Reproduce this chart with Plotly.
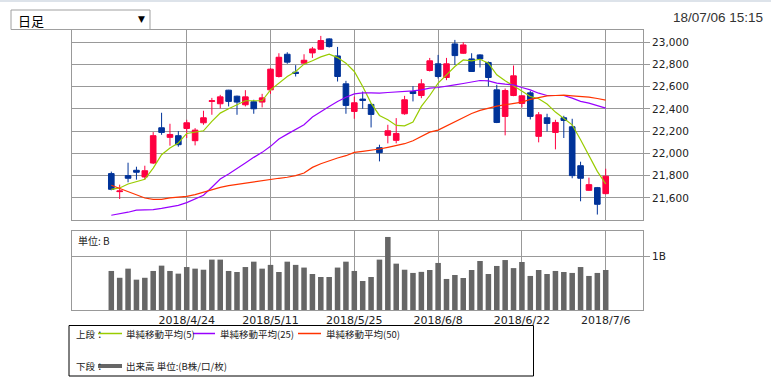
import plotly.graph_objects as go

W, H = 771, 383

dates = (
    ["2018-04-%02d" % d for d in [11, 12, 13, 16, 17, 18, 19, 20, 23, 24, 25, 26, 27]]
    + ["2018-05-%02d" % d for d in [1, 2, 7, 8, 9, 10, 11, 14, 15, 16, 17, 18, 21, 22, 23, 24, 25, 28, 29, 30, 31]]
    + ["2018-06-%02d" % d for d in [1, 4, 5, 6, 7, 8, 11, 12, 13, 14, 15, 18, 19, 20, 21, 22, 25, 26, 27, 28, 29]]
    + ["2018-07-%02d" % d for d in [2, 3, 4, 5, 6]]
)

open_ = [21819, 21657, 21801, 21849, 21789, 21914, 22231, 22145, 22160, 22225,
         22115, 22276, 22468, 22447, 22569, 22515, 22438, 22465, 22462, 22572,
         22692, 22892, 22731, 22812, 22904, 22937, 23030, 22877, 22626, 22378,
         22489, 22441, 22052, 22163, 22118, 22357, 22557, 22521, 22746, 22806,
         22683, 22985, 22901, 22850, 22886, 22818, 22572, 22333, 22521, 22450,
         22545, 22154, 22321, 22189, 22321, 22240, 21890, 21669, 21693, 21639]
high = [21837, 21720, 21917, 21881, 21890, 22192, 22366, 22267, 22201, 22303,
        22228, 22384, 22500, 22527, 22572, 22520, 22569, 22483, 22536, 22767,
        22901, 22910, 22794, 22892, 22958, 23057, 23036, 22958, 22653, 22512,
        22557, 22450, 22079, 22258, 22318, 22518, 22605, 22668, 22859, 22886,
        22859, 23021, 23000, 22901, 22892, 22827, 22617, 22584, 22791, 22524,
        22563, 22372, 22357, 22303, 22339, 22312, 21926, 21783, 21699, 21863]
low = [21669, 21591, 21741, 21765, 21765, 21905, 22168, 22070, 22061, 22139,
       22073, 22258, 22348, 22405, 22423, 22348, 22423, 22357, 22414, 22536,
       22683, 22806, 22692, 22797, 22859, 22931, 22952, 22647, 22357, 22312,
       22402, 22234, 21929, 22091, 22091, 22348, 22468, 22497, 22737, 22674,
       22659, 22797, 22895, 22734, 22773, 22602, 22273, 22163, 22515, 22414,
       22306, 22100, 22198, 22037, 22139, 21777, 21570, 21663, 21451, 21633]
close = [21678, 21663, 21777, 21831, 21845, 22160, 22189, 22171, 22079, 22276,
         22210, 22321, 22474, 22509, 22468, 22462, 22509, 22402, 22500, 22758,
         22865, 22821, 22719, 22838, 22940, 23015, 22961, 22692, 22432, 22456,
         22477, 22351, 22007, 22204, 22180, 22483, 22539, 22626, 22833, 22692,
         22806, 22880, 22976, 22737, 22850, 22683, 22279, 22566, 22698, 22518,
         22333, 22348, 22270, 22279, 22297, 21801, 21777, 21720, 21543, 21795]

ma5 = [21678, 21690, 21726, 21750, 21768, 21869, 21989, 22049, 22094, 22180,
       22189, 22204, 22288, 22363, 22402, 22438, 22474, 22474, 22474, 22572,
       22632, 22692, 22737, 22803, 22833, 22868, 22892, 22862, 22812, 22737,
       22602, 22453, 22342, 22303, 22252, 22249, 22282, 22423, 22521, 22632,
       22707, 22782, 22841, 22833, 22847, 22812, 22707, 22653, 22608, 22557,
       22512, 22492, 22444, 22372, 22318, 22258, 22124, 21974, 21839, 21726]
ma25 = [21445, 21457, 21472, 21490, 21493, 21496, 21507, 21522, 21534, 21558,
        21588, 21624, 21696, 21771, 21816, 21863, 21914, 21965, 22010, 22064,
        22130, 22174, 22219, 22258, 22327, 22378, 22423, 22468, 22506, 22536,
        22545, 22545, 22542, 22548, 22551, 22557, 22563, 22572, 22587, 22593,
        22602, 22617, 22629, 22641, 22656, 22653, 22632, 22623, 22617, 22593,
        22572, 22542, 22521, 22521, 22521, 22497, 22468, 22453, 22429, 22408]
ma50 = [21714, 21684, 21660, 21630, 21600, 21588, 21588, 21600, 21606, 21615,
        21630, 21654, 21678, 21696, 21711, 21723, 21732, 21744, 21759, 21768,
        21777, 21786, 21801, 21824, 21875, 21908, 21935, 21959, 21980, 22010,
        22019, 22028, 22040, 22055, 22073, 22088, 22115, 22154, 22192, 22210,
        22249, 22288, 22324, 22360, 22387, 22408, 22426, 22438, 22450, 22462,
        22486, 22503, 22518, 22521, 22524, 22518, 22515, 22506, 22494, 22480]

volume = [0.727, 0.60, 0.77, 0.565, 0.60, 0.727, 0.826, 0.727, 0.677, 0.80,
          0.77, 0.75, 0.938, 0.938, 0.727, 0.708, 0.80, 0.90, 0.77, 0.84,
          0.708, 0.90, 0.84, 0.79, 0.67, 0.615, 0.615, 0.79, 0.90, 0.727,
          0.54, 0.615, 0.938, 1.36, 0.863, 0.75, 0.69, 0.71, 0.745, 0.876,
          0.578, 0.652, 0.596, 0.745, 0.913, 0.67, 0.82, 0.93, 0.78, 0.894,
          0.634, 0.745, 0.67, 0.727, 0.708, 0.69, 0.80, 0.634, 0.69, 0.745]

tick_dates = ["2018-04-24", "2018-05-11", "2018-05-25", "2018-06-08", "2018-06-22", "2018-07-06"]
tick_text = ["2018/4/24", "2018/5/11", "2018/5/25", "2018/6/8", "2018/6/22", "2018/7/6"]
price_ticks = [21600, 21800, 22000, 22200, 22400, 22600, 22800, 23000]
price_tick_text = ["21,600", "21,800", "22,000", "22,200", "22,400", "22,600", "22,800", "23,000"]

legend_labels = ["単純移動平均(5)", "単純移動平均(25)", "単純移動平均(50)"]
vol_legend = "出来高 単位:(B株/口/枚)"
period_label = "日足"
timestamp = "18/07/06 15:15"

RED = "#FF0040"
BLUE = "#003399"
GREEN = "#99CC00"
PURPLE = "#9900FF"
ORANGE = "#FF3300"
GRID = "#999999"
VOLC = "#666666"


def px(x):
    return x / W


def py(y):
    return 1 - y / H


fig = go.Figure()
fig.add_trace(go.Candlestick(
    x=dates, open=open_, high=high, low=low, close=close,
    increasing=dict(line=dict(color=RED, width=1), fillcolor=RED),
    decreasing=dict(line=dict(color=BLUE, width=1), fillcolor=BLUE),
    whiskerwidth=0, xaxis="x", yaxis="y", hoverinfo="skip"))
for vals, col in [(ma5, GREEN), (ma25, PURPLE), (ma50, ORANGE)]:
    fig.add_trace(go.Scatter(x=dates, y=vals, mode="lines",
                             line=dict(color=col, width=1.2),
                             xaxis="x", yaxis="y", hoverinfo="skip"))
fig.add_trace(go.Bar(x=dates, y=volume, marker=dict(color=VOLC, line=dict(width=0)),
                     width=0.66, xaxis="x2", yaxis="y2", hoverinfo="skip"))

xr = [-4.69, 63.45]
xdom = [px(72), px(643)]
common_x = dict(type="category", categoryorder="array", categoryarray=dates,
                range=xr, domain=xdom, showgrid=True, gridcolor=GRID, gridwidth=1,
                tickmode="array", tickvals=tick_dates, showline=True, linecolor=GRID,
                linewidth=1, mirror=True, zeroline=False, fixedrange=True)

fig.update_layout(
    width=W, height=H,
    margin=dict(l=0, r=0, t=0, b=0),
    paper_bgcolor="white", plot_bgcolor="white",
    showlegend=False,
    boxgap=0.33, boxgroupgap=0,
    bargap=0.3,
    font=dict(family="DejaVu Sans", color="#222222"),
    xaxis=dict(common_x, anchor="y", ticktext=[""] * len(tick_text), ticks="",
               rangeslider=dict(visible=False)),
    xaxis2=dict(common_x, anchor="y2", ticktext=tick_text, ticks="",
                tickfont=dict(size=11, color="#222222", family="DejaVu Sans")),
    yaxis=dict(domain=[py(220), py(30)], range=[21402, 23110], side="right",
               tickmode="array", tickvals=price_ticks, ticktext=price_tick_text,
               ticks="outside", ticklen=6, tickcolor=GRID,
               showgrid=True, gridcolor=GRID, gridwidth=1,
               showline=True, linecolor=GRID, mirror=True, zeroline=False,
               tickfont=dict(size=10.5, color="#222222"), anchor="x"),
    yaxis2=dict(domain=[py(310), py(231)], range=[0, 1.471], side="right",
                tickmode="array", tickvals=[1], ticktext=["1B"],
                ticks="outside", ticklen=6, tickcolor=GRID,
                showgrid=True, gridcolor=GRID, gridwidth=1,
                showline=True, linecolor=GRID, mirror=True, zeroline=False,
                tickfont=dict(size=10.5, color="#222222"), anchor="x2"),
)

shapes = []
annotations = []
# top strip
shapes.append(dict(type="rect", xref="paper", yref="paper", x0=0, x1=1, y0=py(2), y1=py(0),
                   fillcolor="#DDE3EA", line=dict(width=0), layer="below"))
# dropdown box
shapes.append(dict(type="rect", xref="paper", yref="paper", x0=px(11), x1=px(150),
                   y0=py(29.5), y1=py(10), line=dict(color="#A0A0A0", width=1),
                   fillcolor="white"))
annotations.append(dict(xref="paper", yref="paper", x=px(16), y=py(20), text=period_label,
                        showarrow=False, xanchor="left", yanchor="middle",
                        font=dict(family="Noto Sans CJK JP", size=13, color="#000000")))
annotations.append(dict(xref="paper", yref="paper", x=px(141), y=py(19.5), text="▼",
                        showarrow=False, xanchor="center", yanchor="middle",
                        font=dict(family="DejaVu Sans", size=9, color="#000000")))
annotations.append(dict(xref="paper", yref="paper", x=px(765), y=py(17), text=timestamp,
                        showarrow=False, xanchor="right", yanchor="middle",
                        font=dict(family="Liberation Sans", size=13.5, color="#333333")))
# volume unit label
annotations.append(dict(xref="paper", yref="paper", x=px(76), y=py(240), text="単位: B",
                        showarrow=False, xanchor="left", yanchor="middle",
                        font=dict(family="Noto Sans CJK JP", size=10, color="#222222")))
# legend box
shapes.append(dict(type="rect", xref="paper", yref="paper", x0=px(69), x1=px(533.5),
                   y0=py(376), y1=py(325.5), line=dict(color="#000000", width=1)))
ly1, ly2 = 333.5, 366
lf = dict(family="Noto Sans CJK JP", size=9.5, color="#222222")
annotations.append(dict(xref="paper", yref="paper", x=px(74), y=py(ly1), text="上段：",
                        showarrow=False, xanchor="left", yanchor="middle", font=lf))
annotations.append(dict(xref="paper", yref="paper", x=px(74), y=py(ly2), text="下段：",
                        showarrow=False, xanchor="left", yanchor="middle", font=lf))
for (x0, x1, tx), col, lab in zip([(98, 122, 124), (193, 215, 218), (298, 321, 324)],
                                  [GREEN, PURPLE, ORANGE], legend_labels):
    shapes.append(dict(type="line", xref="paper", yref="paper", x0=px(x0), x1=px(x1),
                       y0=py(ly1), y1=py(ly1), line=dict(color=col, width=1.5)))
    annotations.append(dict(xref="paper", yref="paper", x=px(tx), y=py(ly1), text=lab,
                            showarrow=False, xanchor="left", yanchor="middle", font=lf))
shapes.append(dict(type="line", xref="paper", yref="paper", x0=px(98), x1=px(122),
                   y0=py(ly2), y1=py(ly2), line=dict(color=VOLC, width=4)))
annotations.append(dict(xref="paper", yref="paper", x=px(124), y=py(ly2), text=vol_legend,
                        showarrow=False, xanchor="left", yanchor="middle", font=lf))

fig.update_layout(shapes=shapes, annotations=annotations)
fig.write_html("out.html", config={"displayModeBar": False},
               post_script="document.body.style.margin='0px';document.body.style.overflow='hidden';")
